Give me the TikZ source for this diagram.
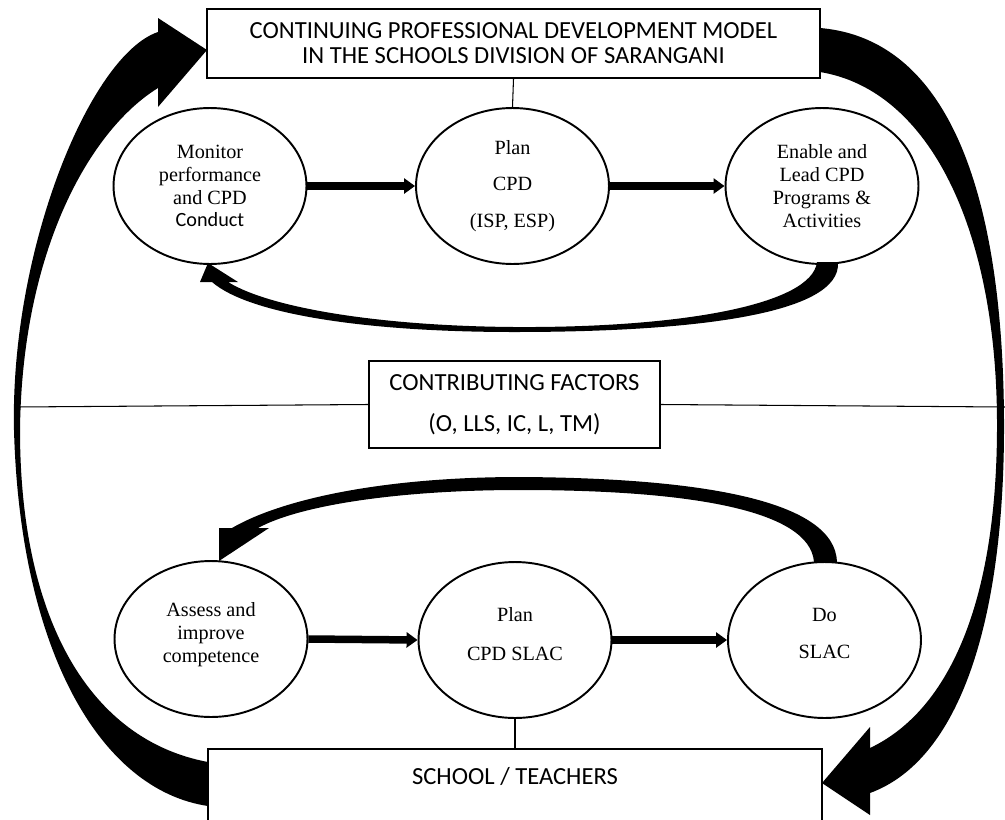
\documentclass[tikz,border=0pt]{standalone}
\usepackage{fontspec}
\setmainfont{Liberation Serif}
\newfontfamily\calibri{Carlito}
\usetikzlibrary{shapes.geometric,arrows.meta}

\tikzset{
  phase/.style={ellipse, draw, line width=1.1pt, minimum width=3.86cm, minimum height=3.12cm, inner sep=0pt, align=center, font=\fontsize{11.5}{13}\selectfont},
  headbox/.style={rectangle, draw, line width=1.1pt, fill=white, inner sep=0pt, align=center, font=\calibri\fontsize{14}{14.2}\selectfont},
  flow/.style={line width=0.15cm, -{Triangle[length=0.22cm,width=0.3cm]}},
  link/.style={line width=0.6pt}
}

\begin{document}
\begin{tikzpicture}[x=0.02cm, y=-0.02cm]
\useasboundingbox (0,0) rectangle (1005,819);
\clip (0,0) rectangle (1005,819);

\node[headbox, minimum width=12.26cm, minimum height=1.38cm] (model) at (513.5,43.5) {CONTINUING PROFESSIONAL DEVELOPMENT MODEL\\IN THE SCHOOLS DIVISION OF SARANGANI};
\node[headbox, minimum width=5.82cm, minimum height=1.74cm] (factors) at (514.5,404.5) {CONTRIBUTING FACTORS\\[0.32cm](O, LLS, IC, L, TM)};
\node[headbox, anchor=north, minimum width=12.28cm, text height=0.71cm, text depth=1.34cm] (school) at (515,748) {SCHOOL / TEACHERS};

\node[phase] (monitor) at (210,186) {Monitor\\performance\\and CPD\\{\calibri Conduct}};
\node[phase] (plancpd) at (512.5,186) {Plan\\[0.28cm]CPD\\[0.28cm](ISP, ESP)};
\node[phase] (enable) at (822,186) {Enable and\\Lead CPD\\Programs \&\\Activities};
\node[phase] (assess) at (211,639) {Assess and\\improve\\competence\\[-0.2cm]\mbox{}};
\node[phase] (planslac) at (515,640) {Plan\\[0.32cm]CPD SLAC\\[-0.2cm]\mbox{}};
\node[phase] (doslac) at (824.5,640) {Do\\[0.28cm]SLAC\\[-0.2cm]\mbox{}};

\coordinate (lineL) at (16,407);
\coordinate (lineR) at (1005,407);
\draw[link] (lineL) -- (factors.west);
\draw[link] (factors.east) -- (lineR);
\draw[link] (model.south) -- (plancpd.north);
\draw[link] (planslac.south) -- (school.north);

\draw[flow] (monitor.east) -- (plancpd.west);
\draw[flow] (plancpd.east) -- (enable.west);
\draw[flow] (assess.east) -- (planslac.west);
\draw[flow] (planslac.east) -- (doslac.west);

\fill (208,806) .. controls (100,790) and (20,650) .. (14,430)
  .. controls (10,250) and (90,55) .. (158,32) -- (158,18) -- (207,50) -- (158,107) -- (158,88)
  .. controls (90,130) and (22,250) .. (20,430)
  .. controls (20,620) and (90,740) .. (208,762) -- cycle;
\fill (820,28) .. controls (960,40) and (1003,220) .. (1004,420)
  .. controls (1005,620) and (960,760) .. (870,793) -- (870,815) -- (822,783) -- (870,727) -- (870,748)
  .. controls (950,710) and (998,600) .. (997,420)
  .. controls (996,230) and (930,90) .. (820,72) -- cycle;
\fill (838,262) .. controls (842,315) and (690,332) .. (514,332)
  .. controls (370,332) and (250,315) .. (212,282) -- (200,282) -- (208,263) -- (238,282) -- (228,282)
  .. controls (270,308) and (380,326) .. (514,327)
  .. controls (680,328) and (812,305) .. (817,262) -- cycle;
\fill (837,562) .. controls (835,500) and (700,478) .. (520,477)
  .. controls (380,477) and (280,500) .. (232,528) -- (219,528) -- (219,561) -- (269,528) -- (258,528)
  .. controls (300,505) and (400,490) .. (520,490)
  .. controls (690,490) and (810,510) .. (814,562) -- cycle;
\end{tikzpicture}
\end{document}
